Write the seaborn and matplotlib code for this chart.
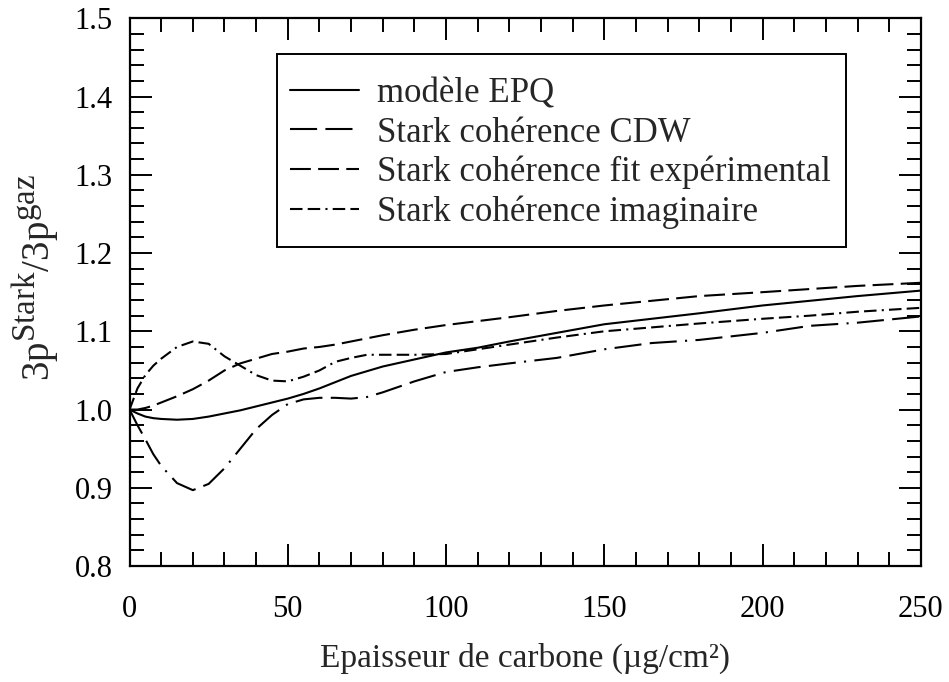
import matplotlib
matplotlib.use("Agg")
import matplotlib.pyplot as plt
import matplotlib._mathtext as mathtext_internal
from matplotlib.ticker import MultipleLocator, FormatStrFormatter
from matplotlib.patches import Rectangle
import seaborn as sns
import pandas as pd

# Carbon thickness (µg/cm²)
epaisseur = [0, 2.5, 5, 7.5, 10, 15, 20, 25, 30, 35, 40, 45, 50, 55, 60, 65, 70,
             75, 80, 90, 100, 110, 120, 135, 150, 165, 180, 200, 215, 230, 250]

# Ratio 3p(Stark) / 3p(gas) for each model
epq = [1.000, 0.995, 0.991, 0.989, 0.988, 0.987, 0.988, 0.991, 0.995, 0.999, 1.004,
       1.009, 1.014, 1.020, 1.027, 1.035, 1.043, 1.049, 1.055, 1.064, 1.073, 1.079,
       1.087, 1.098, 1.109, 1.116, 1.123, 1.133, 1.139, 1.145, 1.152]
cdw = [1.000, 0.980, 0.962, 0.943, 0.928, 0.906, 0.897, 0.905, 0.925, 0.950, 0.975,
       0.993, 1.007, 1.013, 1.015, 1.015, 1.014, 1.016, 1.022, 1.036, 1.048, 1.054,
       1.059, 1.066, 1.077, 1.085, 1.089, 1.098, 1.107, 1.111, 1.119]
fit_exp = [1.000, 1.000, 1.002, 1.005, 1.009, 1.017, 1.026, 1.037, 1.050, 1.059, 1.065,
           1.071, 1.074, 1.078, 1.080, 1.083, 1.087, 1.091, 1.095, 1.102, 1.108, 1.113,
           1.118, 1.126, 1.133, 1.139, 1.145, 1.150, 1.154, 1.158, 1.162]
imaginaire = [1.000, 1.027, 1.044, 1.056, 1.065, 1.080, 1.087, 1.084, 1.068, 1.056, 1.044,
              1.037, 1.036, 1.042, 1.050, 1.061, 1.066, 1.070, 1.070, 1.070, 1.071, 1.077,
              1.083, 1.092, 1.100, 1.105, 1.110, 1.116, 1.120, 1.125, 1.130]

labels = ["modèle EPQ", "Stark cohérence CDW",
          "Stark cohérence fit expérimental", "Stark cohérence imaginaire"]
series = [epq, cdw, fit_exp, imaginaire]

df = pd.DataFrame({
    "x": epaisseur * len(series),
    "y": [v for s in series for v in s],
    "modele": [lab for lab, s in zip(labels, series) for _ in s],
})

sns.set_style("white")
plt.rcParams["font.family"] = ["Liberation Serif", "DejaVu Serif"]
plt.rcParams["mathtext.fontset"] = "custom"
plt.rcParams["mathtext.rm"] = "Liberation Serif"
# Larger superscripts in the axis label
mathtext_internal.SHRINK_FACTOR = 0.85

fig = plt.figure(figsize=(9.49, 6.82), dpi=100)
ax = fig.add_axes([0.1365, 0.1700, 0.8338, 0.8032])

dash_styles = {
    labels[0]: "",
    labels[1]: (13, 4, 13, 4, 1, 4),
    labels[2]: (10, 3.5),
    labels[3]: (6, 2.5, 6, 2.5, 1, 2.5),
}
sns.lineplot(data=df, x="x", y="y", style="modele", dashes=dash_styles,
             color="black", linewidth=1.5, sort=False, ax=ax)

ax.set_xlim(0, 250)
ax.set_ylim(0.8, 1.5)
ax.xaxis.set_major_locator(MultipleLocator(50))
ax.xaxis.set_minor_locator(MultipleLocator(10))
ax.yaxis.set_major_locator(MultipleLocator(0.1))
ax.yaxis.set_minor_locator(MultipleLocator(0.02))
ax.yaxis.set_major_formatter(FormatStrFormatter("%.1f"))

ax.tick_params(which="both", direction="in", top=True, right=True,
               bottom=True, left=True, width=1.4, colors="black",
               labelsize=22)
ax.tick_params(which="major", length=16)
ax.tick_params(which="minor", length=10)
ax.tick_params(axis="y", which="major", pad=12)
ax.tick_params(axis="x", which="major", pad=21)
for sp in ax.spines.values():
    sp.set_color("black")
    sp.set_linewidth(1.6)

ax.set_xlabel("Epaisseur de carbone (µg/cm²)", fontsize=24, labelpad=13)
ax.set_ylabel(r"$\mathrm{3p^{Stark}/3p^{gaz}}$", fontsize=28)
ax.yaxis.set_label_coords(-0.087, 0.526)

# Legend frame drawn as its own box, legend entries placed inside it
ax.add_patch(Rectangle((0.186, 0.5824), 0.7195, 0.3521, transform=ax.transAxes,
                       fill=False, edgecolor="black", linewidth=1.4, zorder=5))
leg = ax.legend(loc="upper left", bbox_to_anchor=(0.2028, 0.892), fontsize=25,
                frameon=False, handlelength=2.0, handletextpad=0.5,
                labelspacing=0.175, borderpad=0, borderaxespad=0)
for h in leg.get_lines():
    h.set_linewidth(1.5)

fig.savefig("out.png", dpi=100)
